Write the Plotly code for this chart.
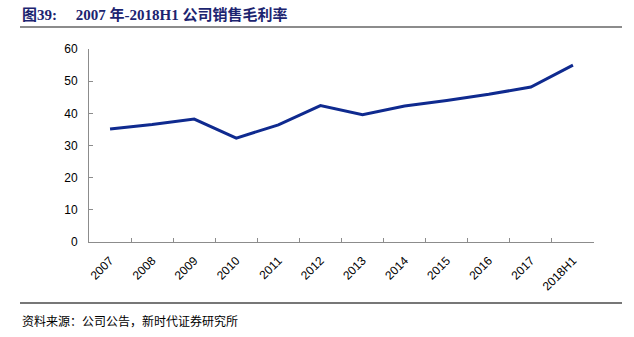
import plotly.graph_objects as go

# Gross margin on sales (%), 2007 to 2018H1
years = ["2007", "2008", "2009", "2010", "2011", "2012",
         "2013", "2014", "2015", "2016", "2017", "2018H1"]
gross_margin = [35.1, 36.5, 38.2, 32.3, 36.4, 42.4,
                39.6, 42.3, 44.0, 45.9, 48.2, 55.0]
y_ticks = [0, 10, 20, 30, 40, 50, 60]

title_text = "<b>图39:&nbsp;&nbsp;&nbsp;&nbsp;&nbsp;2007 年-2018H1 公司销售毛利率</b>"
source_text = "资料来源：公司公告，新时代证券研究所"

fig = go.Figure()
fig.add_trace(go.Scatter(
    x=years, y=gross_margin, mode="lines",
    line=dict(color="#0f2a8f", width=3),
    showlegend=False, hoverinfo="skip",
))

axis_grey = "#8c8c8c"
fig.update_layout(
    width=634, height=337,
    margin=dict(l=89, r=40, t=49, b=95),
    paper_bgcolor="white", plot_bgcolor="white",
    font=dict(family="Liberation Sans, Arial, sans-serif", size=12, color="#000"),
    xaxis=dict(
        type="category", range=[-0.5, len(years) - 0.5],
        tickangle=-45, tickson="boundaries",
        ticks="inside", ticklen=4, tickcolor=axis_grey,
        showline=True, linecolor=axis_grey, linewidth=1,
        showgrid=False, zeroline=False,
        tickfont=dict(size=12), ticklabelstandoff=6,
    ),
    yaxis=dict(
        range=[0, 60], tickvals=y_ticks,
        ticks="inside", ticklen=4, tickcolor=axis_grey,
        showline=True, linecolor=axis_grey, linewidth=1,
        showgrid=False, zeroline=False,
        tickfont=dict(size=12), ticklabelstandoff=8,
    ),
    shapes=[
        dict(type="line", xref="paper", yref="paper",
             x0=-69 / 505, x1=533 / 505, y0=1 + 22 / 193, y1=1 + 22 / 193,
             line=dict(color="#666666", width=1.5)),
        dict(type="line", xref="paper", yref="paper",
             x0=-69 / 505, x1=533 / 505, y0=-61 / 193, y1=-61 / 193,
             line=dict(color="#777777", width=2)),
    ],
    annotations=[
        dict(text=title_text, xref="paper", yref="paper",
             x=-69 / 505, y=1 + 24 / 193, xanchor="left", yanchor="bottom",
             showarrow=False,
             font=dict(family="Liberation Serif, Noto Sans CJK SC", size=15,
                       color="#1c2470")),
        dict(text=source_text, xref="paper", yref="paper",
             x=-69 / 505, y=-68 / 193, xanchor="left", yanchor="top",
             showarrow=False,
             font=dict(family="Noto Sans CJK SC", size=12, color="#000")),
    ],
)

fig.write_html("out.html")
